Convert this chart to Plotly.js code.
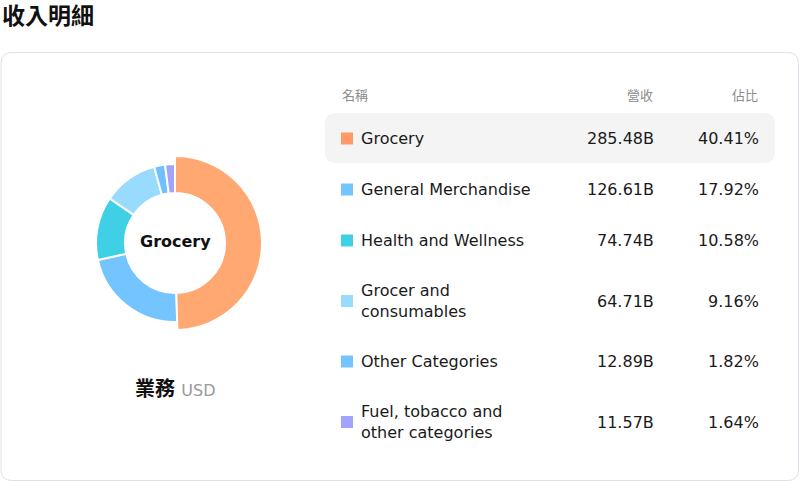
<!DOCTYPE html>
<html>
<head>
<meta charset="utf-8">
<script src="https://cdn.plot.ly/plotly-3.0.1.min.js"></script>
<style>
  html, body { margin: 0; padding: 0; background: #fff; }
  #chart { width: 800px; height: 482px; }
</style>
</head>
<body>
<div id="chart"></div>
<script>
// data
const categories = ["Grocery", "General Merchandise", "Health and Wellness",
                    "Grocer and consumables", "Other Categories", "Fuel, tobacco and other categories"];
const revenue = [285.48, 126.61, 74.74, 64.71, 12.89, 11.57];   // billions USD
const share = [40.41, 17.92, 10.58, 9.16, 1.82, 1.64];          // % of total revenue
const sliceColors = ["#ffa872", "#74c4ff", "#40d0e6", "#99daff", "#6ec1ff", "#a3a3ff"];
const keyColors = ["#ff9a66", "#74c4ff", "#40d0e6", "#99daff", "#74c4ff", "#a3a3ff"];
const headers = ["名稱", "營收", "佔比"];
const title = "收入明細";
const segmentLabel = "業務";
const currency = "USD";

const FONT = "DejaVu Sans, Noto Sans CJK TC, sans-serif";
const W = 800, H = 482;

// greedy word wrap, roughly the column width
function wrap(s, max) {
  const words = s.split(" ");
  const lines = [];
  let cur = "";
  words.forEach(w => {
    if (cur && (cur + " " + w).length > max) { lines.push(cur); cur = w; }
    else cur = cur ? cur + " " + w : w;
  });
  lines.push(cur);
  return lines;
}

// rounded rectangle path in pixel (data) coords
function roundRect(x0, y0, x1, y1, r) {
  return `M${x0 + r},${y0} L${x1 - r},${y0} Q${x1},${y0} ${x1},${y0 + r} ` +
         `L${x1},${y1 - r} Q${x1},${y1} ${x1 - r},${y1} L${x0 + r},${y1} ` +
         `Q${x0},${y1} ${x0},${y1 - r} L${x0},${y0 + r} Q${x0},${y0} ${x0 + r},${y0} Z`;
}

// row layout
const wrapped = categories.map(c => wrap(c, 20));
const rowTops = [];
const rowMid = [];
let rowY = 113;
wrapped.forEach(lines => {
  const h = lines.length > 1 ? 70 : 51;
  rowTops.push(rowY);
  rowMid.push(rowY + h / 2);
  rowY += h;
});

// donut geometry
const cx = 175, cy = 243, rOut = 79, rBig = 87, rIn = 50;
function dom(r) {
  return {
    x: [(cx - r) / W, (cx + r) / W],
    y: [1 - (cy + r) / H, 1 - (cy - r) / H]
  };
}

const traces = [
  {
    type: "pie",
    values: revenue,
    labels: categories,
    sort: false,
    direction: "clockwise",
    rotation: 0,
    hole: rIn / rOut,
    domain: dom(rOut),
    marker: { colors: sliceColors, line: { color: "#fff", width: 2 } },
    textinfo: "none",
    hoverinfo: "skip",
    showlegend: false
  },
  {
    // highlighted slice drawn a bit larger
    type: "pie",
    values: revenue,
    labels: categories,
    sort: false,
    direction: "clockwise",
    rotation: 0,
    hole: rIn / rBig,
    domain: dom(rBig),
    marker: {
      colors: sliceColors.map((c, i) => i === 0 ? c : "rgba(0,0,0,0)"),
      line: { color: revenue.map((v, i) => i === 0 ? "#fff" : "rgba(0,0,0,0)"), width: 2 }
    },
    textinfo: "none",
    hoverinfo: "skip",
    showlegend: false
  },
  {
    type: "scatter",
    mode: "markers",
    x: categories.map(() => 347),
    y: rowMid,
    marker: { symbol: "square", size: 12, color: keyColors },
    hoverinfo: "skip",
    showlegend: false
  }
];

const annotations = [];
function ann(x, y, text, opts) {
  annotations.push(Object.assign({
    x: x, y: y, xref: "x", yref: "y", text: text, showarrow: false,
    xanchor: "left", yanchor: "middle", align: "left",
    font: { family: FONT, size: 16, color: "#1a1a1a" }
  }, opts || {}));
}

ann(0, 16, "<b>" + title + "</b>", { font: { family: FONT, size: 23, color: "#111" } });
ann(cx, 241, "<b>" + categories[0] + "</b>", { xanchor: "center", font: { family: FONT, size: 16, color: "#111" } });
ann(175, 389, "<b>" + segmentLabel + "</b> <span style='color:#999;font-size:16px;font-weight:normal'>" + currency + "</span>",
    { xanchor: "center", font: { family: FONT, size: 20, color: "#111" } });

const hdrFont = { family: FONT, size: 13, color: "#8c8c8c" };
ann(340, 95, headers[0], { font: hdrFont });
ann(655, 95, headers[1], { xanchor: "right", font: hdrFont });
ann(760, 95, headers[2], { xanchor: "right", font: hdrFont });

categories.forEach((c, i) => {
  ann(359, rowMid[i], wrapped[i].join("<br>"));
  ann(656, rowMid[i], revenue[i].toFixed(2) + "B", { xanchor: "right" });
  ann(761, rowMid[i], share[i].toFixed(2) + "%", { xanchor: "right" });
});

const shapes = [
  { type: "path", xref: "x", yref: "y", path: roundRect(1, 52.5, 798.5, 480.5, 11),
    fillcolor: "#fff", line: { color: "#dedee8", width: 1 }, layer: "below" },
  { type: "path", xref: "x", yref: "y", path: roundRect(325, rowTops[0], 775, rowTops[0] + 50, 11),
    fillcolor: "#f4f4f4", line: { width: 0 }, layer: "below" }
];

const layout = {
  width: W, height: H,
  margin: { l: 0, r: 0, t: 0, b: 0 },
  paper_bgcolor: "#fff",
  plot_bgcolor: "rgba(0,0,0,0)",
  xaxis: { range: [0, W], visible: false, fixedrange: true },
  yaxis: { range: [H, 0], visible: false, fixedrange: true },
  shapes: shapes,
  annotations: annotations,
  font: { family: FONT },
  hovermode: false
};

Plotly.newPlot("chart", traces, layout, { displayModeBar: false, staticPlot: true });
</script>
</body>
</html>
